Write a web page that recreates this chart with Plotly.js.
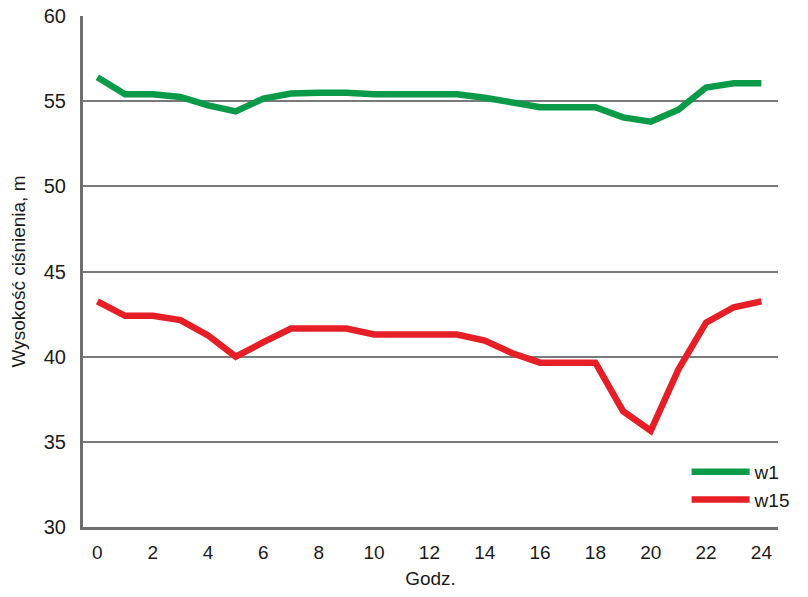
<!DOCTYPE html>
<html>
<head>
<meta charset="utf-8">
<script src="https://cdn.plot.ly/plotly-3.0.1.min.js"></script>
<style>html,body{margin:0;padding:0;background:#fff;}#chart{width:808px;height:597px;}</style>
</head>
<body>
<div id="chart"></div>
<script>
var hours = [0,1,2,3,4,5,6,7,8,9,10,11,12,13,14,15,16,17,18,19,20,21,22,23,24];
var w1 = [56.4,55.4,55.4,55.25,54.75,54.4,55.15,55.45,55.5,55.5,55.4,55.4,55.4,55.4,55.2,54.9,54.65,54.65,54.65,54.05,53.8,54.5,55.8,56.05,56.05];
var w15 = [43.25,42.4,42.4,42.15,41.25,40.0,40.85,41.65,41.65,41.65,41.3,41.3,41.3,41.3,40.95,40.2,39.65,39.65,39.65,36.8,35.65,39.25,42.0,42.9,43.25];
var seriesNames = ["w1","w15"];
var xTicks = [0,2,4,6,8,10,12,14,16,18,20,22,24];
var yTicks = [30,35,40,45,50,55,60];

var fontFam = '"Liberation Sans",Arial,sans-serif';
var traces = [
  {x: hours, y: w1, name: seriesNames[0], mode: 'lines', line: {color: '#0b9a47', width: 6.5}},
  {x: hours, y: w15, name: seriesNames[1], mode: 'lines', line: {color: '#e61e26', width: 6.5}}
];
var layout = {
  width: 808, height: 597,
  margin: {l: 83, r: 20, t: 16, b: 70},
  paper_bgcolor: '#fff', plot_bgcolor: '#fff',
  font: {family: fontFam, size: 19, color: '#1a1a1a'},
  showlegend: true,
  legend: {x: 0.8685, y: 0.145, xanchor: 'left', yanchor: 'top', bgcolor: 'rgba(0,0,0,0)', font: {size: 19}, itemwidth: 58, tracegroupgap: 0},
  xaxis: {
    range: [-0.52, 24.6], tickvals: xTicks, ticktext: xTicks.map(String),
    showgrid: false, zeroline: false, showline: true, linecolor: '#6e6e6e', linewidth: 3,
    ticks: '', tickfont: {size: 19}, ticklabelstandoff: 6, automargin: false,
    title: {text: 'Godz.', font: {size: 19}, standoff: 10}
  },
  yaxis: {
    range: [30, 60], tickvals: yTicks, ticktext: yTicks.map(String),
    showgrid: true, gridcolor: '#7a7a7a', gridwidth: 2, zeroline: false,
    showline: true, linecolor: '#6e6e6e', linewidth: 3,
    ticks: '', tickfont: {size: 20}, ticklabelstandoff: 10, automargin: false,
    title: {text: 'Wysokość ciśnienia, m', font: {size: 19}, standoff: 14}
  }
};
Plotly.newPlot('chart', traces, layout, {displayModeBar: false, staticPlot: true});
</script>
</body>
</html>
